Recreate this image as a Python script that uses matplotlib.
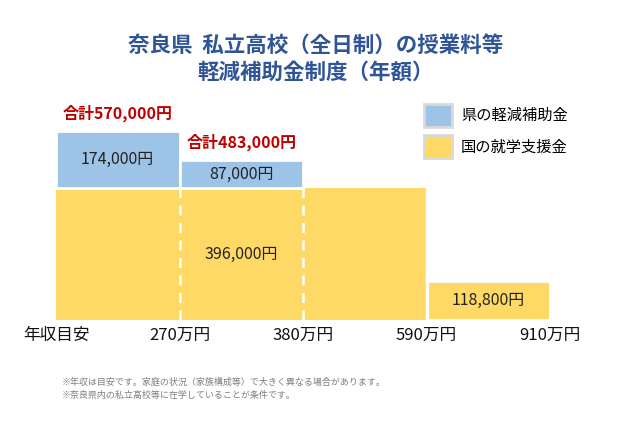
import matplotlib
matplotlib.use("Agg")
import matplotlib.pyplot as plt
from matplotlib.patches import Patch

plt.rcParams['font.family'] = ['Noto Sans CJK JP', 'DejaVu Sans']

# ---- data ----
edge_labels = ["年収目安", "270万円", "380万円", "590万円", "910万円"]
national_support = [396000, 396000, 396000, 118800]   # 国の就学支援金
prefecture_subsidy = [174000, 87000, 0, 0]            # 県の軽減補助金
series_names = ["県の軽減補助金", "国の就学支援金"]
title_lines = ["奈良県  私立高校（全日制）の授業料等", "軽減補助金制度（年額）"]
notes = ["※年収は目安です。家庭の状況（家族構成等）で大きく異なる場合があります。",
         "※奈良県内の私立高校等に在学していることが条件です。"]

yellow = "#FFD966"
blue = "#9DC3E6"
title_color = "#2F5597"
red = "#C00000"

W, H = 640, 440
fig = plt.figure(figsize=(6.4, 4.4), dpi=100)
ax = fig.add_axes([56 / W, 1 - 320 / H, (550 - 56) / W, (320 - 130.7) / H])

n = len(national_support)
xs = list(range(n))
total_max = max(a + b for a, b in zip(national_support, prefecture_subsidy))
ax.set_xlim(0, n)
ax.set_ylim(0, total_max)

# yellow bars: first three merged with dashed white dividers
for i in xs:
    if national_support[i] == national_support[0]:
        ax.bar(i, national_support[i], width=1, align='edge', color=yellow,
               edgecolor='none', linewidth=0)
    else:
        ax.bar(i, national_support[i], width=1, align='edge', color=yellow,
               edgecolor='white', linewidth=2)
for i in range(1, n):
    if national_support[i] == national_support[i - 1]:
        ax.vlines(i, 0, national_support[i], colors='white', linestyles=(0, (4, 3)), linewidth=1.8)
    else:
        ax.vlines(i, 0, max(national_support[i], national_support[i - 1]), colors='white', linewidth=2.5)

# blue bars
for i in xs:
    if prefecture_subsidy[i] > 0:
        ax.bar(i, prefecture_subsidy[i], bottom=national_support[i], width=1, align='edge',
               color=blue, edgecolor='white', linewidth=2)
        ax.text(i + 0.5, national_support[i] + prefecture_subsidy[i] / 2,
                f"{prefecture_subsidy[i]:,}円", ha='center', va='center', fontsize=11.5, color='#222222')
        total = national_support[i] + prefecture_subsidy[i]
        ax.annotate(f"合計{total:,}円", (i + 0.5, total), xytext=(0, 6), textcoords='offset points',
                    ha='center', va='bottom', fontsize=11.5, fontweight='bold', color=red,
                    annotation_clip=False)

# yellow value labels
ax.text(1.5, national_support[1] / 2, f"{national_support[1]:,}円", ha='center', va='center',
        fontsize=11.5, color='#222222')
ax.text(3.5, national_support[3] / 2, f"{national_support[3]:,}円", ha='center', va='center',
        fontsize=11.5, color='#222222')

ax.set_xticks(range(n + 1))
ax.set_xticklabels(edge_labels, fontsize=12, color='#111111')
ax.tick_params(axis='x', length=0, pad=5)
ax.set_yticks([])
for s in ax.spines.values():
    s.set_visible(False)

# legend
handles = [Patch(facecolor=blue, edgecolor='#d9d9d9', linewidth=2),
           Patch(facecolor=yellow, edgecolor='#d9d9d9', linewidth=2)]
fig.legend(handles, series_names, loc='upper left', bbox_to_anchor=(418 / W, 1 - 98 / H),
           frameon=False, fontsize=11, handlelength=1.8, handleheight=1.9,
           labelspacing=0.55, handletextpad=0.6, borderaxespad=0)

# title
fig.text(316 / W, 1 - 45 / H, title_lines[0], ha='center', va='center', fontsize=15.5,
         fontweight='bold', color=title_color)
fig.text(316 / W, 1 - 72 / H, title_lines[1], ha='center', va='center', fontsize=15.5,
         fontweight='bold', color=title_color)

# notes
fig.text(62 / W, 1 - 382 / H, notes[0], ha='left', va='center', fontsize=6.5, color='#7f7f7f')
fig.text(62 / W, 1 - 395 / H, notes[1], ha='left', va='center', fontsize=6.5, color='#7f7f7f')

fig.savefig("out.png", dpi=100, facecolor='white')
